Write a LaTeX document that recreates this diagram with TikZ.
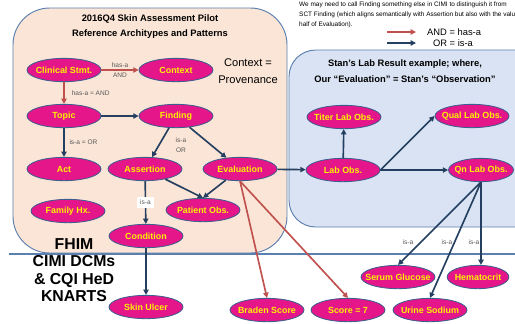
\documentclass[tikz,border=0pt]{standalone}
\usepackage{fontspec}
\setmainfont{Liberation Sans}
\usetikzlibrary{shapes.geometric,arrows.meta}

\definecolor{peachfill}{HTML}{FBE5D6}
\definecolor{bluefill}{HTML}{DAE3F3}
\definecolor{panelline}{HTML}{5B7FAE}
\definecolor{objpink}{HTML}{E5158A}
\definecolor{objline}{HTML}{3A5F8F}
\definecolor{isaline}{HTML}{243F60}
\definecolor{hasaline}{HTML}{C0504D}
\definecolor{lblgray}{HTML}{595959}

\tikzset{
  obj/.style={ellipse, draw=objline, line width=0.7pt, fill=objpink, text=yellow,
    font=\bfseries\fontsize{7.6}{9}\selectfont, inner xsep=-6pt, inner ysep=0pt,
    minimum width=2.22cm, minimum height=0.7cm},
  isa/.style={draw=isaline, line width=1.4pt, -{Triangle[length=4.5pt,width=4.5pt]}},
  hasa/.style={draw=hasaline, line width=1.4pt, -{Triangle[length=4.5pt,width=4.5pt]}},
  lbl/.style={text=lblgray, font=\fontsize{5.6}{8}\selectfont, inner sep=1pt, align=center},
  heading/.style={font=\bfseries\fontsize{8}{12.7}\selectfont, align=center},
}

\begin{document}
\begin{tikzpicture}[x=0.03cm, y=-0.03cm]
\clip (0,0) rectangle (515,323);
% Panels
\draw[panelline, line width=0.8pt, fill=peachfill, rounded corners=1.1cm] (13,8) rectangle (287,253);
\draw[panelline, line width=0.8pt, fill=bluefill, rounded corners=0.8cm] (516,50) -- (289,50) -- (289,227) -- (516,227);
\draw[panelline, line width=1.2pt] (9,254) -- (515,254);

% Headings and notes
\node[heading] (lefttitle) at (150,27) {2016Q4 Skin Assessment Pilot\\Reference Architypes and Patterns};
\node[font=\fontsize{9.5}{15}\selectfont, align=center] (context) at (248,71) {Context =\\Provenance};
\node[heading, font=\bfseries\fontsize{8}{13.6}\selectfont] (righttitle) at (405,71) {Stan’s Lab Result example; where,\\Our “Evaluation” = Stan’s “Observation”};
\node[anchor=north west, align=left, inner sep=0pt, font=\fontsize{5.5}{8.2}\selectfont] (note) at (299,2)
  {We may need to call Finding something else in CIMI to distinguish it from\\SCT Finding (which aligns semantically with Assertion but also with the value\\half of Evaluation).};
\node[font=\bfseries\fontsize{13.5}{15}\selectfont, align=center] (fhim) at (74,270) {FHIM\\CIMI DCMs\\\& CQI HeD\\KNARTS};

% Legend
\coordinate (hasfrom) at (387,32);
\coordinate (hasto) at (416,32);
\coordinate (isafrom) at (387,43);
\coordinate (isato) at (416,43);
\draw[hasa] (hasfrom) -- (hasto);
\draw[isa] (isafrom) -- (isato);
\node[font=\fontsize{8}{9}\selectfont, anchor=west] (andkey) at (423,32) {AND = has-a};
\node[font=\fontsize{8}{9}\selectfont] (orkey) at (453,43) {OR = is-a};

% Skin assessment pattern
\node[obj] (clin) at (64,70) {Clinical Stmt.};
\node[obj] (ctx) at (176,70) {Context};
\node[obj] (topic) at (64,116) {Topic};
\node[obj] (finding) at (176,116) {Finding};
\node[obj] (act) at (64,169) {Act};
\node[obj] (assert) at (145,169) {Assertion};
\node[obj] (eval) at (240,169) {Evaluation};
\node[obj] (famhx) at (68,211) {Family Hx.};
\node[obj] (patobs) at (203,210) {Patient Obs.};
\node[obj] (cond) at (146,236) {Condition};
\node[obj] (ulcer) at (146,307) {Skin Ulcer};
\node[obj] (braden) at (267,310) {Braden Score};
\node[obj] (score) at (348,310) {Score = 7};

% Lab result pattern
\node[obj] (lab) at (343,170) {Lab Obs.};
\node[obj] (titer) at (344,117) {Titer Lab Obs.};
\node[obj] (qual) at (472,116) {Qual Lab Obs.};
\node[obj, minimum width=1.95cm] (qn) at (481,170) {Qn Lab Obs.};
\node[obj] (serum) at (398,277) {Serum Glucose};
\node[obj, minimum width=1.85cm] (hemat) at (478,277) {Hematocrit};
\node[obj] (urine) at (430,310) {Urine Sodium};

% has-a arrows
\draw[hasa] (clin) -- (ctx) node[lbl, midway] {has-a\\AND};
\draw[hasa] (clin) -- (topic) node[lbl, midway, right=5pt] {has-a = AND};
\draw[hasa] (eval.south) -- (braden.north);
\draw[hasa] (eval.south) -- (score.north);

% is-a arrows
\draw[isa] (topic) -- (finding);
\draw[isa] (topic) -- (act) node[lbl, midway, right=3pt] {is-a = OR};
\draw[isa] (finding) -- (assert);
\draw[isa] (finding) -- (eval);
\node[lbl] (isaor) at (181,145) {is-a\\OR};
\draw[isa] (assert) -- (patobs.north);
\draw[isa] (eval) -- (patobs.north);
\draw[isa] (assert) -- (cond) node[lbl, midway, fill=white, inner sep=2.5pt] {is-a};
\draw[isa] (cond) -- (ulcer);
\draw[isa] (eval) -- (lab);
\draw[isa] (lab) -- (titer);
\draw[isa] (lab.east) -- (qual.west);
\draw[isa] (lab.east) -- (qn.west);
\draw[isa] (qn.south) -- (serum.north);
\draw[isa] (qn.south) -- (urine.north);
\draw[isa] (qn.south) -- (qn.south |- hemat.north);
\node[lbl] (isa1) at (408,242) {is-a};
\node[lbl] (isa2) at (447,242) {is-a};
\node[lbl] (isa3) at (474,242) {is-a};
\end{tikzpicture}
\end{document}
